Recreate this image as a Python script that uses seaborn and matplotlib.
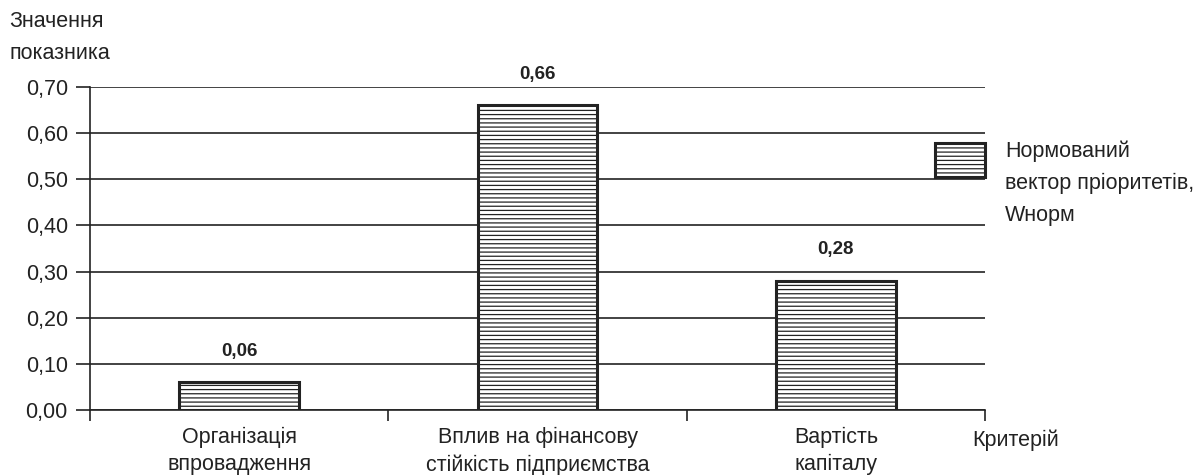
import matplotlib.pyplot as plt
import matplotlib.ticker as mticker
import seaborn as sns
import pandas as pd

sns.set_theme(style='white')
plt.rcParams['font.family'] = ['Liberation Sans', 'DejaVu Sans']
plt.rcParams['hatch.linewidth'] = 0.9

criteria = ['Організація\nвпровадження',
            'Вплив на фінансову\nстійкість підприємства',
            'Вартість\nкапіталу']
w_norm = [0.06, 0.66, 0.28]
value_labels = ['0,06', '0,66', '0,28']
legend_label = 'Нормований\nвектор пріоритетів,\nWнорм'

df = pd.DataFrame({'criterion': criteria, 'w': w_norm})

ink = '#222222'
fs = 15.5

fig = plt.figure(figsize=(12.03, 4.75), dpi=100)
ax = fig.add_axes([0.0748, 0.1368, 0.744, 0.68])

sns.barplot(data=df, x='criterion', y='w', ax=ax, width=0.4,
            color='white', edgecolor=ink, linewidth=2.2,
            hatch='----', label='Wнорм', zorder=3)
for p in ax.patches:
    p.set_zorder(3)

ax.set_ylim(0, 0.70)
ax.set_xlim(-0.5, 2.5)
ax.yaxis.set_major_locator(mticker.MultipleLocator(0.1))
ax.yaxis.set_major_formatter(
    mticker.FuncFormatter(lambda v, _: f'{v:.2f}'.replace('.', ',')))
ax.grid(axis='y', color=ink, linewidth=1.2, zorder=0)
ax.set_axisbelow(True)

for s in ['top', 'right']:
    ax.spines[s].set_visible(False)
for s in ['left', 'bottom']:
    ax.spines[s].set_color(ink)
    ax.spines[s].set_linewidth(1.2)

ax.tick_params(axis='y', left=True, length=10, width=1.2, color=ink,
               labelsize=fs, labelcolor=ink, pad=6)
ax.tick_params(axis='x', bottom=False, labelsize=fs, labelcolor=ink, pad=6)
for t in ax.get_xticklabels():
    t.set_linespacing(1.4)
ax.set_xticks([-0.5, 0.5, 1.5, 2.5], minor=True)
ax.tick_params(axis='x', which='minor', bottom=True, length=8, width=1.2,
               color=ink, direction='out')

for i, (v, t) in enumerate(zip(w_norm, value_labels)):
    ax.text(i, v + 0.067, t, ha='center', va='center', fontsize=13.5,
            fontweight='bold', color=ink)

ax.set_xlabel('')
ax.set_ylabel('')
fig.text(0.008, 0.955, 'Значення', fontsize=fs, color=ink, va='center')
fig.text(0.008, 0.888, 'показника', fontsize=fs, color=ink, va='center')
fig.text(0.808, 0.073, 'Критерій', fontsize=fs, color=ink, va='center')

# legend: hatched handle only, its text placed beside it
handles, _ = ax.get_legend_handles_labels()
leg = ax.legend(handles[:1], [''], loc='center', bbox_to_anchor=(0.972, 0.774),
                frameon=False, fontsize=fs, handlelength=2.3, handleheight=2.0,
                handletextpad=0, borderpad=0, borderaxespad=0)
fig.text(1005 / 1203, 1 - 141 / 475, legend_label, fontsize=fs, color=ink,
         va='top', ha='left', linespacing=1.65)

fig.savefig('out.png', dpi=100)
